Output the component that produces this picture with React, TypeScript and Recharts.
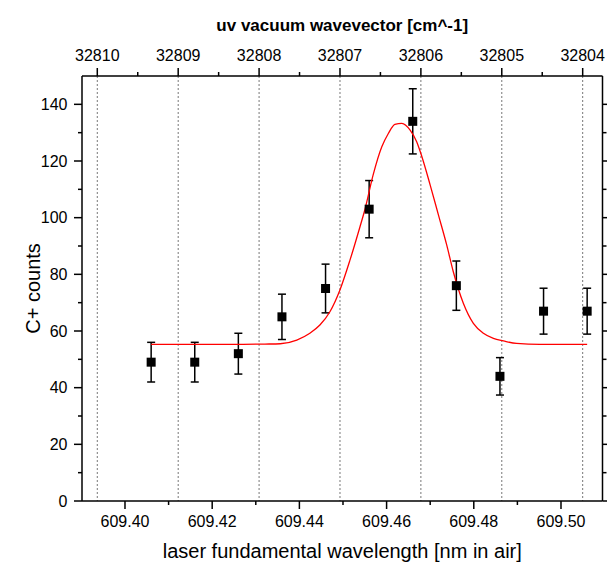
import React from 'react';
import { ComposedChart, Scatter, ErrorBar, XAxis, YAxis, ReferenceLine } from 'recharts';

// measured points: laser wavelength [nm in air], C+ counts, +/- error
const wavelengths = [609.406, 609.416, 609.426, 609.436, 609.446, 609.456, 609.466, 609.476, 609.486, 609.496, 609.506];
const counts = [49, 49, 52, 65, 75, 103, 134, 76, 44, 67, 67];
const countErrors = [7.0, 7.0, 7.2, 8.0, 8.6, 10.1, 11.5, 8.7, 6.6, 8.1, 8.1];

// fitted curve
const fitWavelengths = [
  609.406, 609.4264, 609.4321, 609.4356, 609.4394, 609.4424, 609.4447, 609.447, 609.4493, 609.4516,
  609.4539, 609.455, 609.4569, 609.4589, 609.4604, 609.4619, 609.4635, 609.4654, 609.4669, 609.4681,
  609.47, 609.4719, 609.4738, 609.4753, 609.4776, 609.4799, 609.4822, 609.4845, 609.4868, 609.4898,
  609.4952, 609.506,
];
const fitCounts = [
  55.3, 55.3, 55.4, 55.5, 56.8, 59.2, 62.1, 66.8, 74.5, 85.0,
  96.8, 102.7, 115.0, 125.0, 129.7, 132.9, 133.3, 130.9, 126.8, 121.5,
  111.5, 100.9, 90.3, 80.9, 69.8, 62.7, 59.2, 57.4, 56.5, 55.6,
  55.3, 55.3,
];

const wavelengthTicks = [609.40, 609.41, 609.42, 609.43, 609.44, 609.45, 609.46, 609.47, 609.48, 609.49, 609.50];
const wavevectorTicks = [32804, 32804.5, 32805, 32805.5, 32806, 32806.5, 32807, 32807.5, 32808, 32808.5, 32809, 32809.5, 32810];
const countTicks = [0, 10, 20, 30, 40, 50, 60, 70, 80, 90, 100, 110, 120, 130, 140];

const xTitle = 'laser fundamental wavelength [nm in air]';
const topTitle = 'uv vacuum wavevector [cm^-1]';
const yTitle = 'C+ counts';

const points = wavelengths.map((w, i) => ({ w, c: counts[i], err: countErrors[i] }));
const fit = fitWavelengths.map((w, i) => ({ w, c: fitCounts[i] }));
const gridLines = wavevectorTicks.filter((k) => Number.isInteger(k));
// invisible anchor so the top axis gets a series of its own
const topAnchor = gridLines.map((k) => ({ k, c: 0 }));

const FONT = '"Liberation Sans", Arial, sans-serif';
const MAJOR = 8;
const MINOR = 4;

const BottomTick = (props: any) => {
  const { x, y, payload } = props;
  const major = Math.round(payload.value * 100) % 2 === 0;
  return (
    <g>
      <line x1={x} x2={x} y1={y} y2={y + (major ? MAJOR : MINOR)} stroke="#000" strokeWidth={1.5} />
      {major && (
        <text x={x} y={y + 26} textAnchor="middle" fontSize={16} fontFamily={FONT} fill="#000">
          {payload.value.toFixed(2)}
        </text>
      )}
    </g>
  );
};

const TopTick = (props: any) => {
  const { x, y, payload } = props;
  const major = Number.isInteger(payload.value);
  return (
    <g>
      <line x1={x} x2={x} y1={y} y2={y - (major ? MAJOR : MINOR)} stroke="#000" strokeWidth={1.5} />
      {major && (
        <text x={x} y={y - 15.5} textAnchor="middle" fontSize={16} fontFamily={FONT} fill="#000">
          {payload.value}
        </text>
      )}
    </g>
  );
};

const LeftTick = (props: any) => {
  const { x, y, payload } = props;
  const major = payload.value % 20 === 0;
  return (
    <g>
      <line x1={x} x2={x - (major ? MAJOR : MINOR)} y1={y} y2={y} stroke="#000" strokeWidth={1.5} />
      {major && (
        <text x={x - 14.5} y={y + 5.7} textAnchor="end" fontSize={16} fontFamily={FONT} fill="#000">
          {payload.value}
        </text>
      )}
    </g>
  );
};

const RightTick = (props: any) => {
  const { x, y, payload } = props;
  const major = payload.value % 20 === 0;
  return <line x1={x} x2={x + (major ? MAJOR : MINOR)} y1={y} y2={y} stroke="#000" strokeWidth={1.5} />;
};

const SquareDot = (props: any) => {
  const { cx, cy } = props;
  return <rect x={cx - 4.5} y={cy - 4.5} width={9} height={9} fill="#000" />;
};

const NoDot = () => <g />;

const axisLine = { stroke: '#000', strokeWidth: 1.5 };

export default function App() {
  return (
    <div style={{ position: 'absolute', left: 0, top: 0, background: '#fff' }}>
      <ComposedChart width={607} height={565} margin={{ top: 0, right: 0, bottom: 0, left: 0 }}>
        <XAxis
          xAxisId="bottom"
          dataKey="w"
          type="number"
          orientation="bottom"
          domain={[609.39014, 609.50952]}
          allowDataOverflow
          ticks={wavelengthTicks}
          interval={0}
          height={64}
          tickSize={0}
          tickMargin={0}
          tickLine={false}
          axisLine={axisLine}
          tick={<BottomTick />}
          label={{ value: xTitle, position: 'insideBottom', offset: 7, fontSize: 20, fontFamily: FONT, fill: '#000' }}
        />
        <XAxis
          xAxisId="top"
          dataKey="k"
          type="number"
          orientation="top"
          domain={[32803.755, 32810.189]}
          reversed
          allowDataOverflow
          ticks={wavevectorTicks}
          interval={0}
          height={76}
          tickSize={0}
          tickMargin={0}
          tickLine={false}
          axisLine={axisLine}
          tick={<TopTick />}
          label={{ value: topTitle, position: 'insideTop', offset: 19, fontSize: 17, fontWeight: 'bold', fontFamily: FONT, fill: '#000' }}
        />
        <YAxis
          yAxisId="left"
          type="number"
          domain={[0, 150]}
          allowDataOverflow
          ticks={countTicks}
          interval={0}
          width={82}
          tickSize={0}
          tickMargin={0}
          tickLine={false}
          axisLine={axisLine}
          tick={<LeftTick />}
          label={{ value: yTitle, angle: -90, position: 'insideLeft', offset: 33, fontSize: 20, fontFamily: FONT, fill: '#000', style: { textAnchor: 'middle' } }}
        />
        <YAxis
          yAxisId="right"
          orientation="right"
          type="number"
          domain={[0, 150]}
          allowDataOverflow
          ticks={countTicks}
          interval={0}
          width={4.5}
          tickSize={0}
          tickMargin={0}
          tickLine={false}
          axisLine={axisLine}
          tick={<RightTick />}
        />

        <Scatter
          xAxisId="top"
          yAxisId="left"
          data={topAnchor}
          dataKey="c"
          shape={<NoDot />}
          isAnimationActive={false}
        />

        {gridLines.map((k) => (
          <ReferenceLine
            key={k}
            xAxisId="top"
            yAxisId="left"
            x={k}
            stroke="#777"
            strokeWidth={1}
            strokeDasharray="2 2"
          />
        ))}

        <Scatter
          xAxisId="bottom"
          yAxisId="left"
          data={fit}
          dataKey="c"
          shape={<NoDot />}
          line={{ stroke: '#ff0000', strokeWidth: 1.3 }}
          lineJointType="monotoneX"
          isAnimationActive={false}
        />
        <Scatter
          xAxisId="bottom"
          yAxisId="left"
          data={points}
          dataKey="c"
          shape={<SquareDot />}
          isAnimationActive={false}
        >
          <ErrorBar dataKey="err" direction="y" width={4} stroke="#000" strokeWidth={1.5} />
        </Scatter>
      </ComposedChart>
    </div>
  );
}
